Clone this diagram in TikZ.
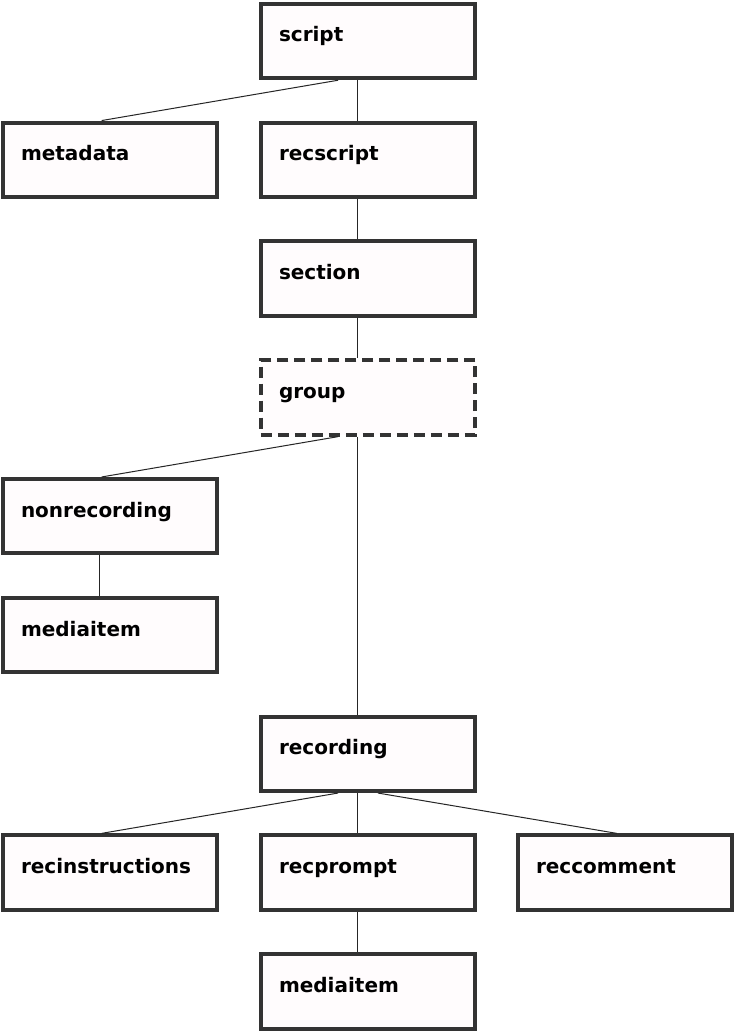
\documentclass[tikz,border=0pt]{standalone}
\usepackage{fontspec}
\setmainfont{DejaVu Sans}
\begin{document}
\begin{tikzpicture}[x=1pt,y=-1pt,
  box/.style={draw=boxline, fill=boxfill, line width=4pt, rectangle,
    minimum width=214.5pt, minimum height=74.5pt, inner sep=0pt,
    text width=178pt, align=left, text height=20pt, text depth=18pt,
    font=\fontsize{20}{24}\selectfont\bfseries},
  dashbox/.style={box, dash pattern=on 11pt off 6pt},
  conn/.style={line width=1pt, draw=black!85}]
\definecolor{boxline}{RGB}{51,51,51}
\definecolor{boxfill}{RGB}{255,252,253}
\useasboundingbox (0,0) rectangle (736,1033);
\fill[white] (0,0) rectangle (736,1033);
\node[box] (script) at (368,41) {script};
\node[box] (metadata) at (110,159.8) {metadata};
\node[box] (recscript) at (368,159.8) {recscript};
\node[box] (section) at (368,278.6) {section};
\node[dashbox] (group) at (368,397.4) {group};
\node[box] (nonrecording) at (110,516.2) {nonrecording};
\node[box] (mediaitemA) at (110,635) {mediaitem};
\node[box] (recording) at (368,753.8) {recording};
\node[box] (recinstructions) at (110,872.6) {recinstructions};
\node[box] (recprompt) at (368,872.6) {recprompt};
\node[box] (reccomment) at (625,872.6) {reccomment};
\node[box] (mediaitemB) at (368,991.4) {mediaitem};
\draw[conn] ([xshift=-30pt]script.south) -- ([xshift=-8.3pt]metadata.north);
\draw[conn] ([xshift=-10.3pt]script.south) -- ([xshift=-10.3pt]recscript.north);
\draw[conn] ([xshift=-10.3pt]recscript.south) -- ([xshift=-10.3pt]section.north);
\draw[conn] ([xshift=-10.3pt]section.south) -- ([xshift=-10.3pt]group.north);
\draw[conn] ([xshift=-30pt]group.south) -- ([xshift=-8.3pt]nonrecording.north);
\draw[conn] ([xshift=-10.3pt]group.south) -- ([xshift=-10.3pt]recording.north);
\draw[conn] ([xshift=-10.3pt]nonrecording.south) -- ([xshift=-10.3pt]mediaitemA.north);
\draw[conn] ([xshift=-30pt]recording.south) -- ([xshift=-8.3pt]recinstructions.north);
\draw[conn] ([xshift=-10.3pt]recording.south) -- ([xshift=-10.3pt]recprompt.north);
\draw[conn] ([xshift=10pt]recording.south) -- ([xshift=-8.3pt]reccomment.north);
\draw[conn] ([xshift=-10.3pt]recprompt.south) -- ([xshift=-10.3pt]mediaitemB.north);
\end{tikzpicture}
\end{document}
